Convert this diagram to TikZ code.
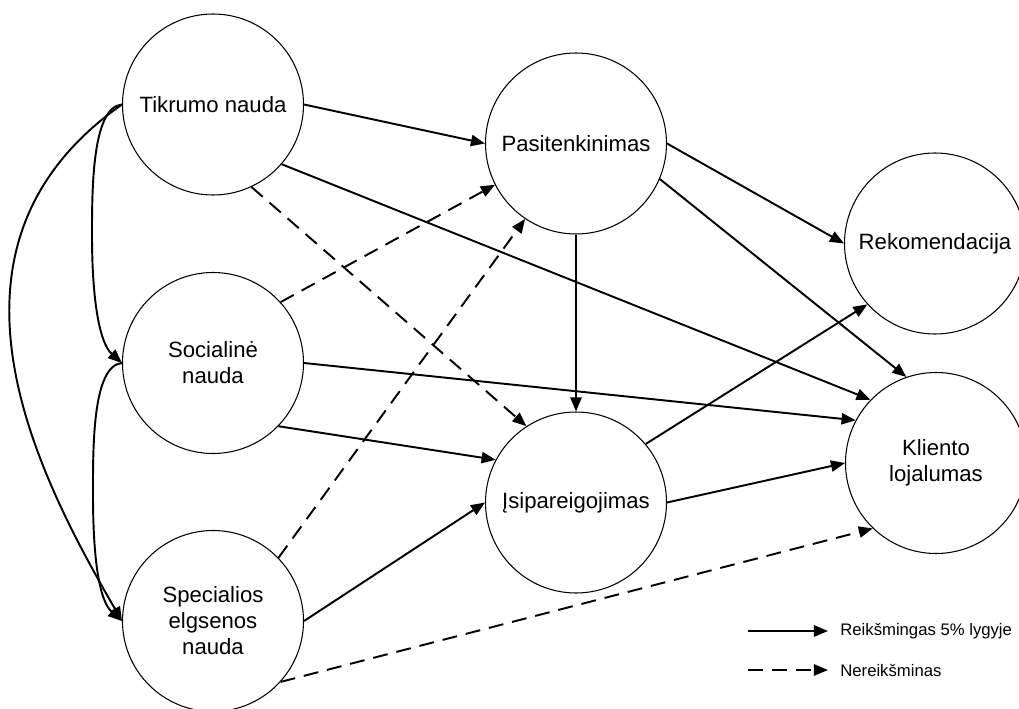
\documentclass[tikz,border=0pt]{standalone}
\usepackage{fontspec}
\setmainfont{Liberation Sans}
\usetikzlibrary{arrows.meta,calc}

\begin{document}
\begin{tikzpicture}[
    factor/.style={circle, draw=black, line width=0.6pt,
                   minimum size=3.62cm, inner sep=0pt, align=center,
                   font=\fontsize{12.6}{14.8}\selectfont},
    arr/.style={-{Triangle[length=8pt, width=6.4pt]}, line width=1.1pt},
    nsarr/.style={arr, dash pattern=on 8.5pt off 5.1pt},
    legtext/.style={anchor=west, inner sep=0pt,
                    font=\fontsize{9.5}{11}\selectfont},
  ]
  \useasboundingbox (0,0) rectangle (20.38,-14.18);

  % Naudos
  \node[factor] (tik) at (4.26, -2.09) {Tikrumo nauda};
  \node[factor] (soc) at (4.26, -7.26) {Socialinė\\nauda};
  \node[factor] (spe) at (4.26, -12.42) {Specialios\\elgsenos\\nauda};

  % Tarpiniai
  \node[factor] (pas) at (11.52, -2.87) {Pasitenkinimas};
  \node[factor] (isi) at (11.52, -10.05) {Įsipareigojimas};

  % Rezultatai
  \node[factor] (rek) at (18.70, -4.87) {Rekomendacija};
  \node[factor] (kli) at (18.72, -9.26) {Kliento\\lojalumas};

  % Kreives kairėje
  \coordinate (ts) at (1.84, -4.70);
  \coordinate (ss) at (1.86, -9.90);
  \draw[arr] (tik.180) .. controls +(-0.6,-0.05) and +(0,0.9) .. (ts)
    .. controls +(0,-1.3) and +(-0.45,0.4) .. (soc.180);
  \draw[arr] (soc.180) .. controls +(-0.6,-0.05) and +(0,0.9) .. (ss)
    .. controls +(0,-1.3) and +(-0.45,0.4) .. (spe.180);
  \draw[arr] (tik.180) .. controls +(215:5.0) and +(120:3.3) .. (spe.180);

  % Ryšiai
  \draw[arr] (tik.0) -- (pas.180);
  \draw[arr] (tik.-41) -- (kli.136);
  \draw[nsarr] (tik.-65) -- (isi.123);
  \draw[nsarr] (soc.42) -- (pas.207);
  \draw[arr] (soc.0) -- (kli.152);
  \draw[arr] (soc.-44) -- (isi.152);
  \draw[nsarr] (spe.44) -- (pas.236);
  \draw[arr] (spe.0) -- (isi.180);
  \draw[nsarr] (spe.-42) -- (kli.226);
  \draw[arr] (pas.0) -- (rek.180);
  \draw[arr] (pas.-23) -- (kli.109);
  \draw[arr] (pas.-90) -- (isi.90);
  \draw[arr] (isi.40) -- (rek.222);
  \draw[arr] (isi.0) -- (kli.180);

  % Legenda
  \coordinate (l1) at (14.96, -12.62);
  \coordinate (l2) at (14.96, -13.40);
  \node[legtext] (sig) at (16.80, -12.62) {Reikšmingas 5\% lygyje};
  \node[legtext] (nsig) at (16.80, -13.40) {Nereikšminas};
  \draw[arr] (l1) -- ([xshift=-0.24cm]sig.west);
  \draw[nsarr] (l2) -- ([xshift=-0.24cm]nsig.west);
\end{tikzpicture}
\end{document}
